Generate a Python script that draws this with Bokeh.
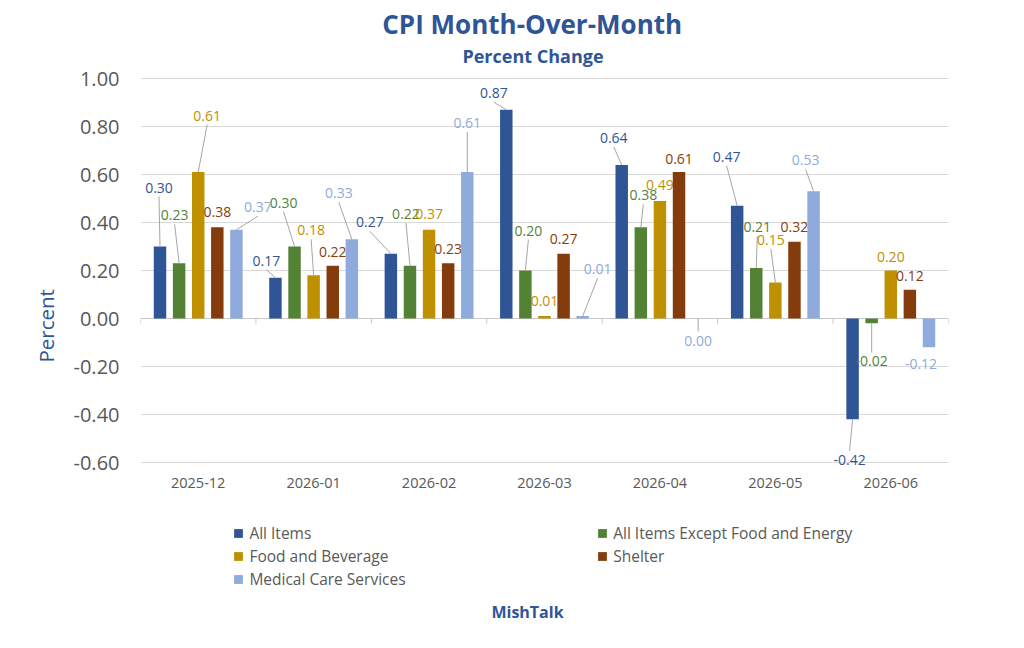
from bokeh.plotting import figure
from bokeh.layouts import column
from bokeh.models import (ColumnDataSource, FactorRange, Range1d, FixedTicker,
                          NumeralTickFormatter, Label, Legend, LegendItem, Span, Title)
from bokeh.transform import dodge
from bokeh.core.properties import value
from bokeh.embed import file_html
from bokeh.resources import INLINE

# ---- data -------------------------------------------------------------
months = ["2025-12", "2026-01", "2026-02", "2026-03", "2026-04", "2026-05", "2026-06"]

all_items = [0.30, 0.17, 0.27, 0.87, 0.64, 0.47, -0.42]
core      = [0.23, 0.30, 0.22, 0.20, 0.38, 0.21, -0.02]
food      = [0.61, 0.18, 0.37, 0.01, 0.49, 0.15, 0.20]
shelter   = [0.38, 0.22, 0.23, 0.27, 0.61, 0.32, 0.12]
medical   = [0.37, 0.33, 0.61, 0.01, 0.00, 0.53, -0.12]

series_names = ["All Items", "All Items Except Food and Energy",
                "Food and Beverage", "Shelter", "Medical Care Services"]
series_values = [all_items, core, food, shelter, medical]

y_ticks = [-0.60, -0.40, -0.20, 0.00, 0.20, 0.40, 0.60, 0.80, 1.00]

# ---- styling / layout -------------------------------------------------
colors = ["#2F5597", "#548235", "#BF9000", "#843C0C", "#8FAADC"]
TITLE_BLUE = "#2F5597"
GRAY_TEXT = "#595959"
FONT = "Open Sans"

W, H = 1024, 648
MAIN_H = 510                     # chart part; the footer holds legend + credit
FOOT_H = H - MAIN_H

# plot frame in page pixels; the value axis runs from -0.60 (y=462) to 1.00 (y=78),
# the frame reaches up to the page top so the headings sit inside it
FRAME_L, FRAME_R, FRAME_T, FRAME_B = 140, 948, 0, 470
Y_MIN, Y_MAX = -0.60, 1.00
Y_MIN_PX, Y_MAX_PX = 462, 78
PX_PER_Y = (Y_MIN_PX - Y_MAX_PX) / (Y_MAX - Y_MIN)
PX_PER_CAT = (FRAME_R - FRAME_L) / len(months)
y_start = Y_MIN - (FRAME_B - Y_MIN_PX) / PX_PER_Y
y_end = Y_MAX + (Y_MAX_PX - FRAME_T) / PX_PER_Y

BAR_STEP = 0.1655
BAR_WIDTH = 0.108

# data-label placement (pixel offsets of the label centre from the bar end)
# and whether a leader line is drawn to it
label_dx = [
    [-1, -9, -21, -12.5, -8, -10.5, -3],
    [-4.5, -11, -4, 3, 2.5, 1, 0],
    [9, -2.5, 0, 0, 0, -4.5, 0],
    [0, 0, 0, 0, 0, 0, 0],
    [21.5, -13, 0, 15, 0, -8, -8],
]
label_dy = [
    [-59, -17, -31.5, -16.5, -27, -49, 40.5],
    [-48, -44, -52, -40, -32, -41, 38],
    [-56.6, -45, -16, -15, -15.5, -42.7, -14],
    [-15, -13.5, -14.5, -15, -13.5, -14.5, -14],
    [-22.5, -46, -49, -47, 22, -31, 17],
]
leader = [
    [1, 1, 1, 1, 1, 1, 1],
    [1, 1, 1, 1, 1, 1, 1],
    [1, 1, 0, 0, 0, 1, 0],
    [0, 0, 0, 0, 0, 0, 0],
    [1, 1, 1, 1, 1, 1, 0],
]

p = figure(width=W, height=MAIN_H,
           x_range=FactorRange(*months), y_range=Range1d(y_start, y_end),
           output_backend="svg", toolbar_location=None,
           min_border_left=FRAME_L, min_border_right=W - FRAME_R,
           min_border_top=FRAME_T, min_border_bottom=MAIN_H - FRAME_B)
p.outline_line_color = None
p.background_fill_color = "white"
p.border_fill_color = "white"

# axes
p.yaxis.ticker = FixedTicker(ticks=y_ticks)
p.yaxis.formatter = NumeralTickFormatter(format="0.00")
p.yaxis.axis_line_color = None
p.yaxis.major_tick_line_color = None
p.yaxis.minor_tick_line_color = None
p.yaxis.major_tick_in = 0
p.yaxis.major_tick_out = 0
p.yaxis.major_label_standoff = 21
p.yaxis.major_label_text_font = FONT
p.yaxis.major_label_text_font_size = "20px"
p.yaxis.major_label_text_color = GRAY_TEXT

p.xaxis.axis_line_color = None
p.xaxis.major_tick_line_color = None
p.xaxis.major_tick_in = 0
p.xaxis.major_tick_out = 0
p.xaxis.major_label_standoff = 7
p.xaxis.major_label_text_font = FONT
p.xaxis.major_label_text_font_size = "14.5px"
p.xaxis.major_label_text_color = GRAY_TEXT

p.xgrid.grid_line_color = None
p.ygrid.ticker = FixedTicker(ticks=y_ticks)
p.ygrid.grid_line_color = "#D9D9D9"
p.ygrid.grid_line_width = 1

# zero line with category separator ticks
p.add_layout(Span(location=0, dimension="width", line_color="#C8C8C8",
                  line_width=1, level="underlay"))
bounds = list(range(len(months) + 1))
p.segment(x0=bounds, y0=[0] * len(bounds), x1=bounds,
          y1=[-5 / PX_PER_Y] * len(bounds), line_color="#C8C8C8", line_width=1)

# bars, data labels and leader lines
for k, (name, vals, col) in enumerate(zip(series_names, series_values, colors)):
    off = (k - 2) * BAR_STEP
    src = ColumnDataSource(dict(
        month=months, value=vals,
        label=[f"{v:.2f}" for v in vals],
        dx=label_dx[k], dy=label_dy[k],
    ))
    p.vbar(x=dodge("month", off, range=p.x_range), top="value",
           width=BAR_WIDTH, source=src, fill_color=col, line_color=None)

    # leader lines from the bar end towards the displaced label
    lx0, ly0, lx1, ly1 = [], [], [], []
    for i, v in enumerate(vals):
        if not leader[k][i]:
            continue
        dx, dy = label_dx[k][i], label_dy[k][i]
        end_dy = dy + 9 if dy < 0 else dy - 9
        cx = i + 0.5 + off
        lx0.append(cx)
        ly0.append(v)
        lx1.append(cx + dx / PX_PER_CAT)
        ly1.append(v - end_dy / PX_PER_Y)
    if lx0:
        p.segment(x0=lx0, y0=ly0, x1=lx1, y1=ly1,
                  line_color="#A6A6A6", line_width=1)

    p.text(x=dodge("month", off, range=p.x_range), y="value", text="label",
           x_offset="dx", y_offset="dy", source=src,
           text_align="center", text_baseline="middle",
           text_color=col, text_font=value(FONT), text_font_size="14px")

# text placed in page pixels inside a frame whose bottom-left corner is given
def frame_label(frame_left, frame_bottom, text, xp, yp, size, color, bold=False):
    return Label(x=xp - frame_left, y=frame_bottom - yp,
                 x_units="screen", y_units="screen",
                 text=text, text_align="center", text_baseline="middle",
                 text_font=FONT, text_font_size=size,
                 text_font_style="bold" if bold else "normal", text_color=color)

p.add_layout(frame_label(FRAME_L, FRAME_B, "CPI Month-Over-Month", 531.7, 23.3,
                         "26px", TITLE_BLUE, bold=True))
p.add_layout(frame_label(FRAME_L, FRAME_B, "Percent Change", 532.5, 55,
                         "18px", TITLE_BLUE, bold=True))

# value-axis title, placed beside the tick labels
p.add_layout(Title(text="Percent", align="left", offset=FRAME_B - 362,
                   vertical_align="middle", standoff=19,
                   text_font=FONT, text_font_size="20.5px", text_font_style="normal",
                   text_color=TITLE_BLUE), "left")

# ---- footer: legend and credit ------------------------------------------
# its frame lines up with the chart frame (same left/right borders)
foot = figure(width=W, height=FOOT_H,
              x_range=Range1d(0, FRAME_R - FRAME_L), y_range=Range1d(0, FOOT_H),
              x_axis_type=None, y_axis_type=None, output_backend="svg",
              toolbar_location=None,
              min_border_left=FRAME_L, min_border_right=W - FRAME_R,
              min_border_top=0, min_border_bottom=0)
foot.outline_line_color = None
foot.background_fill_color = "white"
foot.border_fill_color = "white"

# square markers kept outside the footer's view; they only carry the
# series colours for the legend swatches
swatches = [foot.scatter(x=[-1000], y=[-1000], marker="square", size=11,
                         fill_color=c, line_color=None) for c in colors]

ITEM_H, ITEM_GAP, GLYPH_BOX = 22, 1, 22

def make_legend(idx, swatch_center_px, first_row_center_px):
    n = len(idx)
    height = n * ITEM_H + (n - 1) * ITEM_GAP
    top_local = first_row_center_px - ITEM_H / 2 - MAIN_H
    left_px = swatch_center_px - GLYPH_BOX / 2
    return Legend(
        items=[LegendItem(label=series_names[i], renderers=[swatches[i]]) for i in idx],
        location=(left_px - FRAME_L, FOOT_H - top_local - height), orientation="vertical",
        glyph_width=GLYPH_BOX, glyph_height=GLYPH_BOX, label_standoff=0,
        label_height=ITEM_H, spacing=ITEM_GAP, padding=0, margin=0,
        label_text_font=FONT, label_text_font_size="15.5px",
        label_text_color=GRAY_TEXT,
        border_line_color=None, background_fill_alpha=0,
    )

foot.add_layout(make_legend([0, 2, 4], 238.4, 532.8))
foot.add_layout(make_legend([1, 3], 602.2, 532.8))
foot.add_layout(frame_label(FRAME_L, FOOT_H, "MishTalk", 527, 611 - MAIN_H,
                            "16px", TITLE_BLUE, bold=True))

open("out.html", "w").write(file_html(column(p, foot, spacing=0), INLINE))
